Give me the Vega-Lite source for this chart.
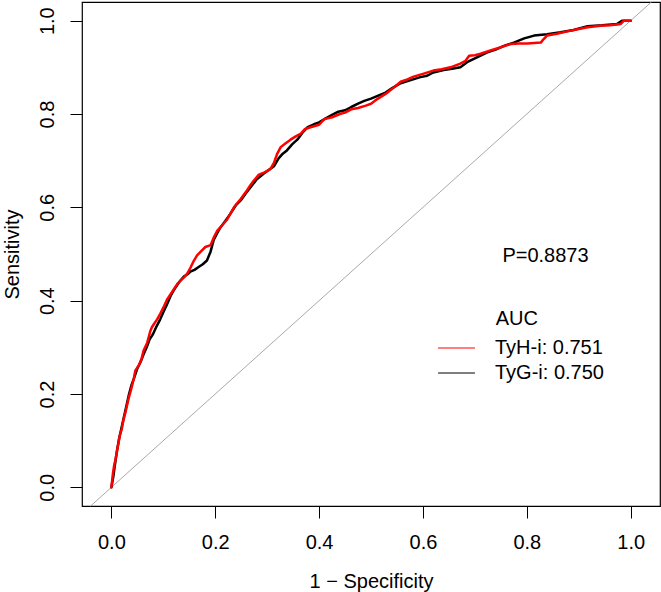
{
  "$schema": "https://vega.github.io/schema/vega-lite/v6.json",
  "width": 578,
  "height": 504,
  "autosize": {"type": "none"},
  "padding": {"left": 82, "top": 2, "right": 1, "bottom": 86},
  "background": "white",
  "config": {
    "font": "Liberation Sans",
    "view": {"stroke": "#000000", "strokeWidth": 1.2},
    "axis": {
      "domain": false,
      "grid": false,
      "ticks": true,
      "tickColor": "#000000",
      "tickSize": 12,
      "tickWidth": 1,
      "labelColor": "#000000",
      "labelFont": "Liberation Sans",
      "labelFontSize": 20,
      "titleColor": "#000000",
      "titleFont": "Liberation Sans",
      "titleFontSize": 20,
      "titleFontWeight": "normal"
    }
  },
  "datasets": {
    "TyH-i": [
      {"fpr":0,"tpr":0},{"fpr":0.003,"tpr":0.03},{"fpr":0.005,"tpr":0.045},{"fpr":0.008,"tpr":0.06},{"fpr":0.012,"tpr":0.085},{"fpr":0.016,"tpr":0.11},{"fpr":0.02,"tpr":0.125},{"fpr":0.023,"tpr":0.143},{"fpr":0.028,"tpr":0.165},{"fpr":0.033,"tpr":0.19},{"fpr":0.038,"tpr":0.21},{"fpr":0.043,"tpr":0.232},{"fpr":0.046,"tpr":0.25},{"fpr":0.053,"tpr":0.262},{"fpr":0.058,"tpr":0.275},{"fpr":0.062,"tpr":0.293},{"fpr":0.069,"tpr":0.31},{"fpr":0.075,"tpr":0.335},{"fpr":0.078,"tpr":0.343},{"fpr":0.082,"tpr":0.35},{"fpr":0.088,"tpr":0.36},{"fpr":0.094,"tpr":0.372},{"fpr":0.1,"tpr":0.385},{"fpr":0.107,"tpr":0.402},{"fpr":0.114,"tpr":0.414},{"fpr":0.12,"tpr":0.424},{"fpr":0.127,"tpr":0.436},{"fpr":0.133,"tpr":0.443},{"fpr":0.14,"tpr":0.45},{"fpr":0.146,"tpr":0.458},{"fpr":0.152,"tpr":0.47},{"fpr":0.159,"tpr":0.486},{"fpr":0.165,"tpr":0.497},{"fpr":0.172,"tpr":0.505},{"fpr":0.181,"tpr":0.515},{"fpr":0.191,"tpr":0.519},{"fpr":0.197,"tpr":0.535},{"fpr":0.204,"tpr":0.55},{"fpr":0.212,"tpr":0.56},{"fpr":0.223,"tpr":0.574},{"fpr":0.236,"tpr":0.6},{"fpr":0.249,"tpr":0.618},{"fpr":0.261,"tpr":0.636},{"fpr":0.268,"tpr":0.648},{"fpr":0.274,"tpr":0.657},{"fpr":0.284,"tpr":0.67},{"fpr":0.295,"tpr":0.675},{"fpr":0.306,"tpr":0.682},{"fpr":0.313,"tpr":0.695},{"fpr":0.319,"tpr":0.714},{"fpr":0.326,"tpr":0.729},{"fpr":0.335,"tpr":0.737},{"fpr":0.345,"tpr":0.745},{"fpr":0.355,"tpr":0.752},{"fpr":0.365,"tpr":0.758},{"fpr":0.373,"tpr":0.768},{"fpr":0.385,"tpr":0.772},{"fpr":0.4,"tpr":0.777},{"fpr":0.41,"tpr":0.789},{"fpr":0.425,"tpr":0.793},{"fpr":0.44,"tpr":0.8},{"fpr":0.45,"tpr":0.803},{"fpr":0.462,"tpr":0.81},{"fpr":0.475,"tpr":0.813},{"fpr":0.49,"tpr":0.818},{"fpr":0.5,"tpr":0.822},{"fpr":0.512,"tpr":0.832},{"fpr":0.528,"tpr":0.843},{"fpr":0.542,"tpr":0.855},{"fpr":0.557,"tpr":0.869},{"fpr":0.57,"tpr":0.874},{"fpr":0.582,"tpr":0.88},{"fpr":0.6,"tpr":0.886},{"fpr":0.62,"tpr":0.893},{"fpr":0.636,"tpr":0.896},{"fpr":0.653,"tpr":0.9},{"fpr":0.672,"tpr":0.908},{"fpr":0.682,"tpr":0.914},{"fpr":0.689,"tpr":0.925},{"fpr":0.7,"tpr":0.926},{"fpr":0.711,"tpr":0.929},{"fpr":0.73,"tpr":0.936},{"fpr":0.75,"tpr":0.943},{"fpr":0.769,"tpr":0.95},{"fpr":0.785,"tpr":0.951},{"fpr":0.801,"tpr":0.951},{"fpr":0.827,"tpr":0.953},{"fpr":0.832,"tpr":0.96},{"fpr":0.839,"tpr":0.968},{"fpr":0.858,"tpr":0.972},{"fpr":0.878,"tpr":0.977},{"fpr":0.9,"tpr":0.982},{"fpr":0.917,"tpr":0.986},{"fpr":0.942,"tpr":0.989},{"fpr":0.96,"tpr":0.99},{"fpr":0.981,"tpr":0.993},{"fpr":0.987,"tpr":1.0},{"fpr":1,"tpr":1}
    ],
    "TyG-i": [
      {"fpr":0,"tpr":0},{"fpr":0.004,"tpr":0.025},{"fpr":0.007,"tpr":0.05},{"fpr":0.011,"tpr":0.08},{"fpr":0.015,"tpr":0.105},{"fpr":0.019,"tpr":0.125},{"fpr":0.024,"tpr":0.15},{"fpr":0.029,"tpr":0.175},{"fpr":0.034,"tpr":0.2},{"fpr":0.039,"tpr":0.22},{"fpr":0.044,"tpr":0.235},{"fpr":0.05,"tpr":0.255},{"fpr":0.056,"tpr":0.268},{"fpr":0.062,"tpr":0.285},{"fpr":0.068,"tpr":0.3},{"fpr":0.074,"tpr":0.318},{"fpr":0.08,"tpr":0.328},{"fpr":0.087,"tpr":0.345},{"fpr":0.094,"tpr":0.36},{"fpr":0.1,"tpr":0.375},{"fpr":0.107,"tpr":0.392},{"fpr":0.114,"tpr":0.41},{"fpr":0.12,"tpr":0.422},{"fpr":0.127,"tpr":0.434},{"fpr":0.133,"tpr":0.443},{"fpr":0.14,"tpr":0.452},{"fpr":0.146,"tpr":0.456},{"fpr":0.152,"tpr":0.462},{"fpr":0.16,"tpr":0.466},{"fpr":0.168,"tpr":0.472},{"fpr":0.176,"tpr":0.478},{"fpr":0.184,"tpr":0.486},{"fpr":0.191,"tpr":0.505},{"fpr":0.197,"tpr":0.53},{"fpr":0.204,"tpr":0.545},{"fpr":0.21,"tpr":0.557},{"fpr":0.219,"tpr":0.57},{"fpr":0.229,"tpr":0.586},{"fpr":0.24,"tpr":0.605},{"fpr":0.25,"tpr":0.616},{"fpr":0.259,"tpr":0.63},{"fpr":0.268,"tpr":0.643},{"fpr":0.28,"tpr":0.66},{"fpr":0.293,"tpr":0.672},{"fpr":0.303,"tpr":0.68},{"fpr":0.313,"tpr":0.688},{"fpr":0.322,"tpr":0.705},{"fpr":0.33,"tpr":0.715},{"fpr":0.338,"tpr":0.722},{"fpr":0.348,"tpr":0.735},{"fpr":0.358,"tpr":0.745},{"fpr":0.368,"tpr":0.76},{"fpr":0.378,"tpr":0.772},{"fpr":0.39,"tpr":0.778},{"fpr":0.4,"tpr":0.782},{"fpr":0.412,"tpr":0.79},{"fpr":0.425,"tpr":0.798},{"fpr":0.437,"tpr":0.805},{"fpr":0.45,"tpr":0.808},{"fpr":0.462,"tpr":0.815},{"fpr":0.475,"tpr":0.822},{"fpr":0.487,"tpr":0.828},{"fpr":0.5,"tpr":0.833},{"fpr":0.515,"tpr":0.84},{"fpr":0.528,"tpr":0.846},{"fpr":0.54,"tpr":0.855},{"fpr":0.557,"tpr":0.866},{"fpr":0.575,"tpr":0.872},{"fpr":0.595,"tpr":0.879},{"fpr":0.608,"tpr":0.882},{"fpr":0.62,"tpr":0.889},{"fpr":0.64,"tpr":0.894},{"fpr":0.656,"tpr":0.897},{"fpr":0.672,"tpr":0.9},{"fpr":0.685,"tpr":0.911},{"fpr":0.698,"tpr":0.918},{"fpr":0.711,"tpr":0.925},{"fpr":0.724,"tpr":0.932},{"fpr":0.74,"tpr":0.938},{"fpr":0.756,"tpr":0.946},{"fpr":0.775,"tpr":0.953},{"fpr":0.795,"tpr":0.962},{"fpr":0.814,"tpr":0.968},{"fpr":0.839,"tpr":0.971},{"fpr":0.865,"tpr":0.975},{"fpr":0.89,"tpr":0.98},{"fpr":0.917,"tpr":0.988},{"fpr":0.945,"tpr":0.99},{"fpr":0.974,"tpr":0.993},{"fpr":0.984,"tpr":1.0},{"fpr":1,"tpr":1}
    ]
  },
  "layer": [
    {
      "data": {"values": [{}]},
      "mark": {"type": "rule", "color": "#A9A9A9", "strokeWidth": 1},
      "encoding": {
        "x": {"datum": -0.04, "type": "quantitative",
          "scale": {"domain": [-0.0566, 1.0565], "nice": false, "zero": false},
          "axis": {"values": [0, 0.2, 0.4, 0.6, 0.8, 1.0], "format": ".1f", "labelPadding": 14, "titlePadding": 19, "labelFlush": false},
          "title": "1 − Specificity"},
        "y": {"datum": -0.04, "type": "quantitative",
          "scale": {"domain": [-0.04, 1.04], "nice": false, "zero": false},
          "axis": {"values": [0, 0.2, 0.4, 0.6, 0.8, 1.0], "format": ".1f", "labelAngle": -90, "labelAlign": "center", "labelBaseline": "bottom", "labelPadding": 13, "titlePadding": 15, "labelFlush": false},
          "title": "Sensitivity"},
        "x2": {"datum": 1.04},
        "y2": {"datum": 1.04}
      }
    },
    {
      "data": {"name": "TyG-i"},
      "mark": {"type": "line", "strokeWidth": 2.5, "strokeJoin": "round", "strokeCap": "round", "clip": true},
      "encoding": {
        "x": {"field": "fpr", "type": "quantitative", "title": "1 − Specificity"},
        "y": {"field": "tpr", "type": "quantitative", "title": "Sensitivity"},
        "color": {"datum": "TyG-i", "type": "nominal"}
      }
    },
    {
      "data": {"name": "TyH-i"},
      "mark": {"type": "line", "strokeWidth": 2.5, "strokeJoin": "round", "strokeCap": "round", "clip": true},
      "encoding": {
        "x": {"field": "fpr", "type": "quantitative", "title": "1 − Specificity"},
        "y": {"field": "tpr", "type": "quantitative", "title": "Sensitivity"},
        "color": {"datum": "TyH-i", "type": "nominal",
          "scale": {"domain": ["TyH-i", "TyG-i"], "range": ["#FF0000", "#000000"]},
          "legend": {
            "orient": "none",
            "legendX": 364.5,
            "legendY": 336,
            "title": null,
            "padding": 0,
            "symbolType": "M-4,0H4",
            "symbolSize": 85,
            "symbolStrokeWidth": 1.2,
            "labelOffset": 28.5,
            "labelFontSize": 20,
            "labelFont": "Liberation Sans",
            "labelColor": "#000000",
            "rowPadding": 5,
            "labelExpr": "datum.value == 'TyH-i' ? 'TyH-i: 0.751' : 'TyG-i: 0.750'"
          }
        }
      }
    },
    {
      "data": {"values": [{}]},
      "mark": {"type": "text", "text": "P=0.8873", "fontSize": 20, "align": "center", "baseline": "alphabetic", "color": "#000000"},
      "encoding": {
        "x": {"datum": 0.836, "type": "quantitative", "title": "1 − Specificity"},
        "y": {"datum": 0.482, "type": "quantitative", "title": "Sensitivity"}
      }
    },
    {
      "data": {"values": [{}]},
      "mark": {"type": "text", "text": "AUC", "fontSize": 20, "align": "left", "baseline": "alphabetic", "color": "#000000"},
      "encoding": {
        "x": {"datum": 0.74, "type": "quantitative", "title": "1 − Specificity"},
        "y": {"datum": 0.347, "type": "quantitative", "title": "Sensitivity"}
      }
    }
  ]
}
